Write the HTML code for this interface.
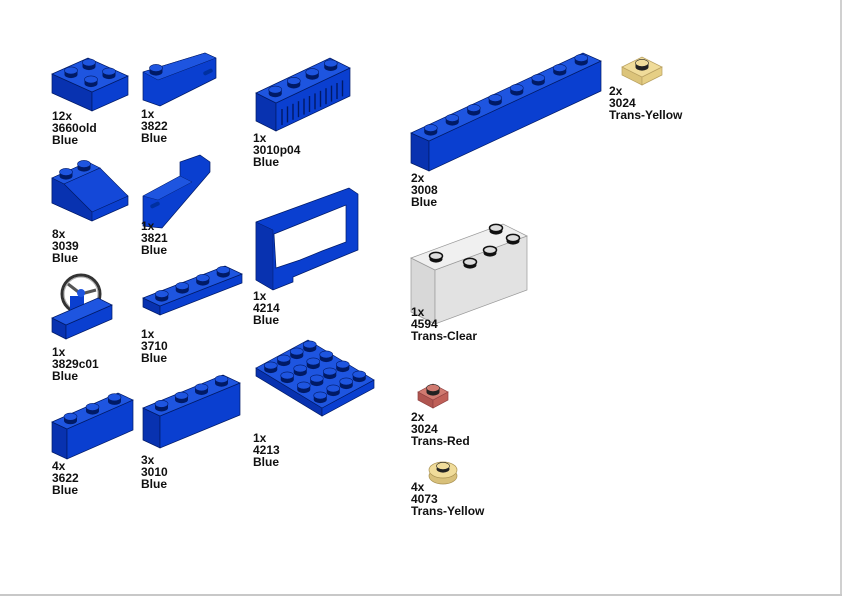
<!DOCTYPE html>
<html><head><meta charset="utf-8">
<style>
html,body{margin:0;padding:0;background:#fff;}
#w{position:relative;width:842px;height:596px;overflow:hidden;background:#fff;}
#w:after{content:"";position:absolute;left:0;top:594px;width:842px;height:2px;background:#c8c8c8;}
#w:before{content:"";position:absolute;left:840px;top:0;width:2px;height:596px;background:#d0d0d0;}
.l{position:absolute;font:bold 12px/12px "Liberation Sans",Arial,sans-serif;color:#111;white-space:nowrap;}
svg{position:absolute;left:0;top:0;}
</style></head><body>
<div id="w">
<svg id="s" width="842" height="596" viewBox="0 0 842 596">
<!-- 3822 door -->
<polygon points="143,72 205,53 216,58 216,78 160,106 143,100" fill="#0a3fd0" stroke="#001a66" stroke-width="0.7"/>
<polygon points="143,72 205,53 216,58 158,80" fill="#1e55e0" stroke="#001a66" stroke-width="0.5"/>
<rect x="203" y="70" width="10" height="4" rx="2" fill="#0030a0" transform="rotate(-25 208 72)"/>
<!-- 3821 door -->
<polygon points="143,196 180,176 180,162 200,155 210,162 210,172 162,228 143,226" fill="#0a3fd0" stroke="#001a66" stroke-width="0.7"/>
<polygon points="143,196 180,176 192,182 158,200" fill="#1e55e0" stroke="#001a66" stroke-width="0.4"/>
<rect x="150" y="203" width="10" height="4" rx="2" fill="#0030a0" transform="rotate(-25 155 205)"/>
<!-- 4214 frame -->
<path d="M256,222 L349,188 L358,194 L358,250 L336,259 L293,277 L293,282 L273,290 L256,280 Z M274,234 L346,205 L346,242 L322,251 L300,260 L276,268 Z" fill="#0a3fd0" fill-rule="evenodd" stroke="#001a66" stroke-width="0.7"/>
<polygon points="256,222 273,230 273,290 256,280" fill="#0832b0" stroke="#001a66" stroke-width="0.5"/>
<!-- 3829 wheel -->
<circle cx="81" cy="294" r="19" fill="none" stroke="#333" stroke-width="3"/>
<circle cx="81" cy="294" r="17" fill="none" stroke="#aaa" stroke-width="1"/>
<line x1="81" y1="294" x2="68" y2="284" stroke="#555" stroke-width="3"/>
<line x1="81" y1="294" x2="96" y2="290" stroke="#555" stroke-width="3"/>
<line x1="81" y1="294" x2="82" y2="310" stroke="#555" stroke-width="3"/>
<rect x="70" y="296" width="14" height="26" fill="#0a3fd0"/>
<circle cx="81" cy="293" r="4" fill="#1e55e0"/>
</svg>

<div class="l" style="left:52px;top:110px">12x<br>3660old<br>Blue</div>
<div class="l" style="left:141px;top:108px">1x<br>3822<br>Blue</div>
<div class="l" style="left:253px;top:132px">1x<br>3010p04<br>Blue</div>
<div class="l" style="left:411px;top:172px">2x<br>3008<br>Blue</div>
<div class="l" style="left:609px;top:85px">2x<br>3024<br>Trans-Yellow</div>
<div class="l" style="left:52px;top:228px">8x<br>3039<br>Blue</div>
<div class="l" style="left:141px;top:220px">1x<br>3821<br>Blue</div>
<div class="l" style="left:253px;top:290px">1x<br>4214<br>Blue</div>
<div class="l" style="left:411px;top:306px">1x<br>4594<br>Trans-Clear</div>
<div class="l" style="left:52px;top:346px">1x<br>3829c01<br>Blue</div>
<div class="l" style="left:141px;top:328px">1x<br>3710<br>Blue</div>
<div class="l" style="left:411px;top:411px">2x<br>3024<br>Trans-Red</div>
<div class="l" style="left:253px;top:432px">1x<br>4213<br>Blue</div>
<div class="l" style="left:52px;top:460px">4x<br>3622<br>Blue</div>
<div class="l" style="left:141px;top:454px">3x<br>3010<br>Blue</div>
<div class="l" style="left:411px;top:481px">4x<br>4073<br>Trans-Yellow</div>
</div>
<script>
var s=document.getElementById('s'),NS='http://www.w3.org/2000/svg';
function el(t,a){var e=document.createElementNS(NS,t);for(var k in a)e.setAttribute(k,a[k]);s.appendChild(e);return e;}
function pts(a){return a.map(function(p){return p[0].toFixed(1)+','+p[1].toFixed(1)}).join(' ');}
function stud(x,y,c){c=c||{stud:'#1e55e0',sd:'#001a66'};
  el('rect',{x:x-6.5,y:y-4,width:13,height:4,fill:c.sd});
  el('ellipse',{cx:x,cy:y,rx:6.5,ry:3.6,fill:c.sd});
  el('ellipse',{cx:x,cy:y-4,rx:6.5,ry:3.6,fill:c.stud,stroke:c.sd,'stroke-width':0.6});}
function box(P,a,b,h,na,nb,c,st){
 c=c||{top:'#1e55e0',f:'#0a3fd0',s:'#0832b0',line:'#001a66',stud:'#1e55e0',sd:'#001a66'};
 var A=[P[0]+a[0],P[1]+a[1]],B=[P[0]+b[0],P[1]+b[1]],AB=[P[0]+a[0]+b[0],P[1]+a[1]+b[1]];
 var d=function(p){return [p[0],p[1]+h]};
 el('polygon',{points:pts([P,B,d(B),d(P)]),fill:c.s,stroke:c.line,'stroke-width':0.7});
 el('polygon',{points:pts([B,AB,d(AB),d(B)]),fill:c.f,stroke:c.line,'stroke-width':0.7});
 el('polygon',{points:pts([P,A,AB,B]),fill:c.top,stroke:c.line,'stroke-width':0.7});
 if(st===false)return;
 for(var i=0;i<na;i++)for(var j=0;j<nb;j++){
  var x=P[0]+(i+.5)/na*a[0]+(j+.5)/nb*b[0],y=P[1]+(i+.5)/na*a[1]+(j+.5)/nb*b[1];
  stud(x,y,c);
 }}
// 3660old
box([52,74],[36,-16],[40,18],19,2,2);
// 3010p04
box([256,93],[74,-35],[20,10],28,4,1);
for(var k=0;k<12;k++){var x=282+k*5.5,y=105-k*2.6;el('line',{x1:x,y1:y+4,x2:x,y2:y+20,stroke:'#001a66','stroke-width':1.4});}
// 3039 slope
(function(){var P=[52,178],a=[36,-16];
 el('polygon',{points:'52,178 52,203 92,221 128,205 128,196 88,162',fill:'#0a3fd0',stroke:'#001a66','stroke-width':0.7});
 el('polygon',{points:'52,178 88,162 100,168 64,184',fill:'#1e55e0',stroke:'#001a66','stroke-width':0.6});
 el('polygon',{points:'64,184 100,168 128,196 92,212',fill:'#1448d8',stroke:'#001a66','stroke-width':0.6});
 el('polygon',{points:'52,178 64,184 92,212 92,221 52,203',fill:'#0832b0',stroke:'#001a66','stroke-width':0.6});
 stud(66,176);stud(84,168);})();
// 3829 base
box([52,318],[46,-20],[14,7],14,1,1,null,false);
// 3710
box([143,298],[82,-32],[17,8],9,4,1);
// 3622
box([52,422],[66,-29],[15,7],30,3,1);
// 3010
box([143,408],[80,-33],[17,8],32,4,1);
// 4213
box([256,368],[52,-28],[66,40],8,4,4);
// 3008
box([411,133],[172,-80],[18,8],30,8,1);
// 3822 stud
stud(156,72);
// 3024 yellow
var ty={top:'#f0dc9a',f:'#e6cf85',s:'#dcc47a',line:'#b8a060',stud:'#f0dc9a',sd:'#222'};
box([622,67],[20,-10],[20,10],8,1,1,ty);
// 4594
var tc={top:'#f0f0f0',f:'#e2e2e2',s:'#d8d8d8',line:'#999',stud:'#ddd',sd:'#111'};
box([411,258],[92,-34],[24,12],54,1,1,tc,false);
[[436,256],[470,262],[490,250],[496,228],[513,238]].forEach(function(p){el('ellipse',{cx:p[0],cy:p[1]+3,rx:6.5,ry:3.6,fill:'#111'});el('ellipse',{cx:p[0],cy:p[1],rx:6.5,ry:3.6,fill:'#ddd',stroke:'#111','stroke-width':1.5});});
// 3024 red
var tr={top:'#d07a70',f:'#c06058',s:'#b05550',line:'#904040',stud:'#d07a70',sd:'#222'};
box([418,392],[15,-8],[15,8],8,1,1,tr);
// 4073
el('ellipse',{cx:443,cy:476,rx:14,ry:8,fill:'#d8c07a',stroke:'#a89050','stroke-width':0.7});
el('ellipse',{cx:443,cy:470,rx:14,ry:8,fill:'#f0dc9a',stroke:'#a89050','stroke-width':0.7});
el('ellipse',{cx:443,cy:469,rx:6.5,ry:3.6,fill:'#222'});
el('ellipse',{cx:443,cy:466,rx:6.5,ry:3.6,fill:'#f0dc9a',stroke:'#222','stroke-width':0.6});
</script>
</body></html>
